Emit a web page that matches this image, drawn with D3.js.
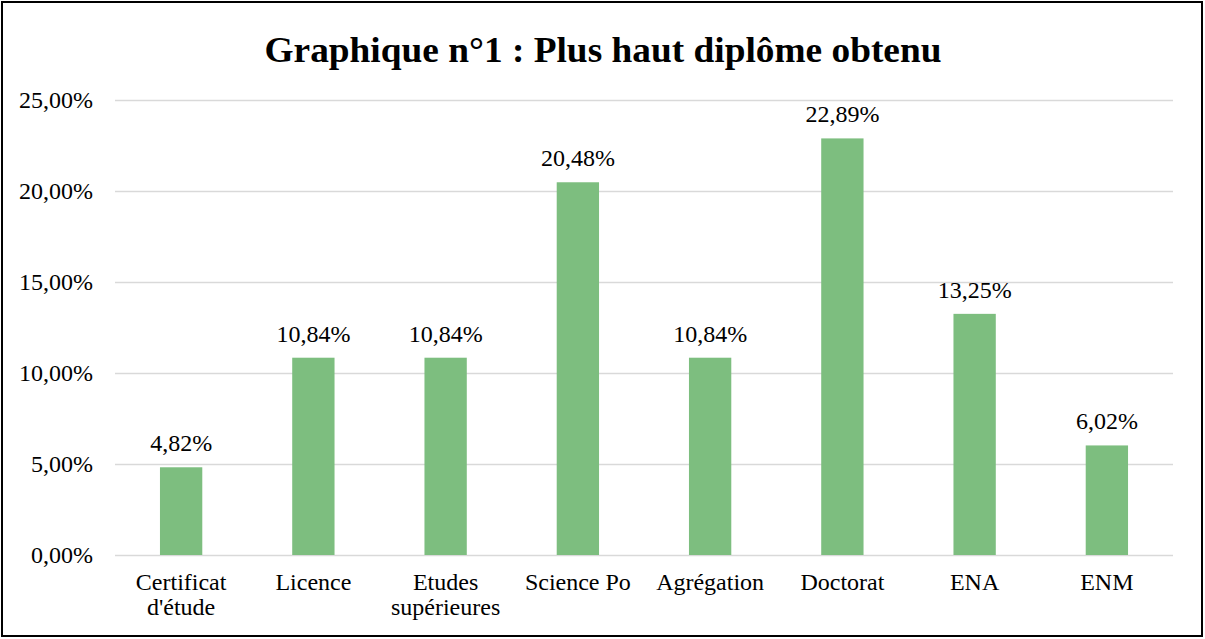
<!DOCTYPE html>
<html><head><meta charset="utf-8">
<script src="https://cdn.jsdelivr.net/npm/d3@7"></script>
<style>
html,body{margin:0;padding:0;background:#fff;}
svg{display:block;}
text{font-family:"Liberation Serif","Times New Roman",serif;}
</style></head>
<body>
<svg id="chart" width="1205" height="639"></svg>
<script>
const categories = [["Certificat","d'étude"],["Licence"],["Etudes","supérieures"],["Science Po"],["Agrégation"],["Doctorat"],["ENA"],["ENM"]];
const values = [4.82, 10.84, 10.84, 20.48, 10.84, 22.89, 13.25, 6.02];
const yTicks = [0, 5, 10, 15, 20, 25];
const title = "Graphique n°1 : Plus haut diplôme obtenu";

const FONT = "Liberation Serif, Times New Roman, serif";
const svg = d3.select("#chart");
svg.append("rect").attr("x",2).attr("y",2).attr("width",1200).attr("height",634)
  .attr("fill","#fff").attr("stroke","#000").attr("stroke-width",2);

const mL = 115, mR = 1173, mT = 100, mB = 555;
const x = d3.scaleBand().domain(d3.range(values.length)).range([mL, mR]).paddingInner(0.68).paddingOuter(0.34);
const y = d3.scaleLinear().domain([0, 25]).range([mB, mT]);
const fmt = v => v.toFixed(2).replace(".", ",") + "%";

svg.append("text").attr("x", 603).attr("y", 62).attr("text-anchor","middle")
  .attr("font-family", FONT).attr("font-size", 36).attr("font-weight","bold").attr("fill","#000")
  .attr("textLength", 677).attr("lengthAdjust","spacingAndGlyphs").text(title);

const yAxis = svg.append("g").attr("transform", `translate(${mL},0)`)
  .call(d3.axisLeft(y).tickValues(yTicks).tickSize(-(mR-mL)).tickFormat(fmt).tickPadding(22));
yAxis.attr("font-family", FONT);
yAxis.select(".domain").remove();
yAxis.selectAll(".tick line").attr("stroke","#d9d9d9").attr("stroke-width",1.5);
yAxis.selectAll(".tick text").attr("font-size",24).attr("fill","#000").attr("font-family", FONT);

svg.append("g").selectAll("rect").data(values).join("rect")
  .attr("x",(d,i)=>x(i)).attr("width",x.bandwidth())
  .attr("y",d=>y(d)).attr("height",d=>y(0)-y(d))
  .attr("fill","#7dbe7f");

svg.append("g").selectAll("text").data(values).join("text")
  .attr("x",(d,i)=>x(i)+x.bandwidth()/2).attr("y",d=>y(d)-16)
  .attr("text-anchor","middle").attr("font-family", FONT).attr("font-size",24).attr("fill","#000").text(fmt);

const cat = svg.append("g").selectAll("text").data(categories).join("text")
  .attr("x",(d,i)=>x(i)+x.bandwidth()/2).attr("y",590)
  .attr("text-anchor","middle").attr("font-family", FONT).attr("font-size",24).attr("fill","#000");
cat.selectAll("tspan").data(d=>d).join("tspan")
  .attr("x",function(){return this.parentNode.getAttribute("x");})
  .attr("dy",(d,i)=>i===0?0:25).text(d=>d);
</script>
</body></html>
